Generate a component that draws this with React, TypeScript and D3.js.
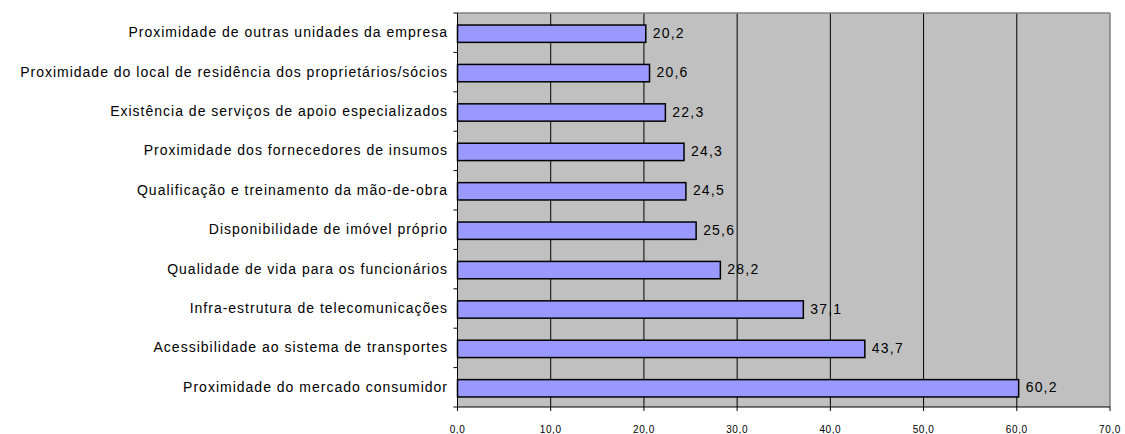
import React from "react";
import * as d3 from "d3";

const categories = [
  "Proximidade de outras unidades da empresa",
  "Proximidade do local de residência dos proprietários/sócios",
  "Existência de serviços de apoio especializados",
  "Proximidade dos fornecedores de insumos",
  "Qualificação e treinamento da mão-de-obra",
  "Disponibilidade de imóvel próprio",
  "Qualidade de vida para os funcionários",
  "Infra-estrutura de telecomunicações",
  "Acessibilidade ao sistema de transportes",
  "Proximidade do mercado consumidor",
];
const values = [20.2, 20.6, 22.3, 24.3, 24.5, 25.6, 28.2, 37.1, 43.7, 60.2];
const xTicks = [0, 10, 20, 30, 40, 50, 60, 70];

const W = 1125;
const H = 434;
const left = 457.5;
const right = 1110;
const top = 13;
const bottom = 407;
const font = "'Liberation Sans', Arial, sans-serif";

const fmt = (v: number) => v.toFixed(1).replace(".", ",");

export default function App() {
  const x = d3.scaleLinear().domain([0, 70]).range([left, right]);
  const y = d3.scaleBand<string>().domain(categories).range([top, bottom]).paddingInner(0).paddingOuter(0);
  const bw = y.bandwidth();
  const barH = bw * 0.44;
  const bounds = d3.range(categories.length + 1).map((i) => top + i * bw);

  return (
    <svg width={W} height={H} style={{ position: "absolute", left: 0, top: 0 }}>
      <rect x={left} y={top} width={right - left} height={bottom - top} fill="#c0c0c0" />
      {xTicks.slice(1, -1).map((t) => (
        <line key={t} x1={x(t)} x2={x(t)} y1={top} y2={bottom} stroke="#000" strokeWidth={1} />
      ))}
      <line x1={left} x2={right} y1={top} y2={top} stroke="#808080" strokeWidth={1.5} />
      <line x1={right} x2={right} y1={top} y2={bottom} stroke="#808080" strokeWidth={1.5} />
      {categories.map((c, i) => {
        const cy = (y(c) as number) + bw / 2 + 1;
        return (
          <g key={c}>
            <rect
              x={x(0)}
              y={cy - barH / 2}
              width={x(values[i]) - x(0)}
              height={barH}
              fill="#9999ff"
              stroke="#000"
              strokeWidth={1.5}
            />
            <text
              x={x(values[i]) + 7}
              y={cy + 4}
              fontFamily={font}
              fontSize={14}
              letterSpacing={1.2}
              fill="#000"
            >
              {fmt(values[i])}
            </text>
            <text
              x={448}
              y={cy - 1.5}
              dy="0.35em"
              textAnchor="end"
              fontFamily={font}
              fontSize={14}
              letterSpacing={1}
              fill="#000"
            >
              {c}
            </text>
          </g>
        );
      })}
      <line x1={left} x2={left} y1={top} y2={bottom} stroke="#000" strokeWidth={1} />
      {bounds.map((b, i) => (
        <line key={i} x1={left - 4} x2={left} y1={b} y2={b} stroke="#000" strokeWidth={1} />
      ))}
      <line x1={left} x2={right} y1={bottom} y2={bottom} stroke="#000" strokeWidth={1} />
      {xTicks.map((t) => (
        <g key={t}>
          <line x1={x(t)} x2={x(t)} y1={bottom} y2={bottom + 4} stroke="#000" strokeWidth={1} />
          <text
            x={x(t)}
            y={bottom + 26}
            textAnchor="middle"
            fontFamily={font}
            fontSize={10}
            letterSpacing={0.6}
            fill="#000"
          >
            {fmt(t)}
          </text>
        </g>
      ))}
    </svg>
  );
}
